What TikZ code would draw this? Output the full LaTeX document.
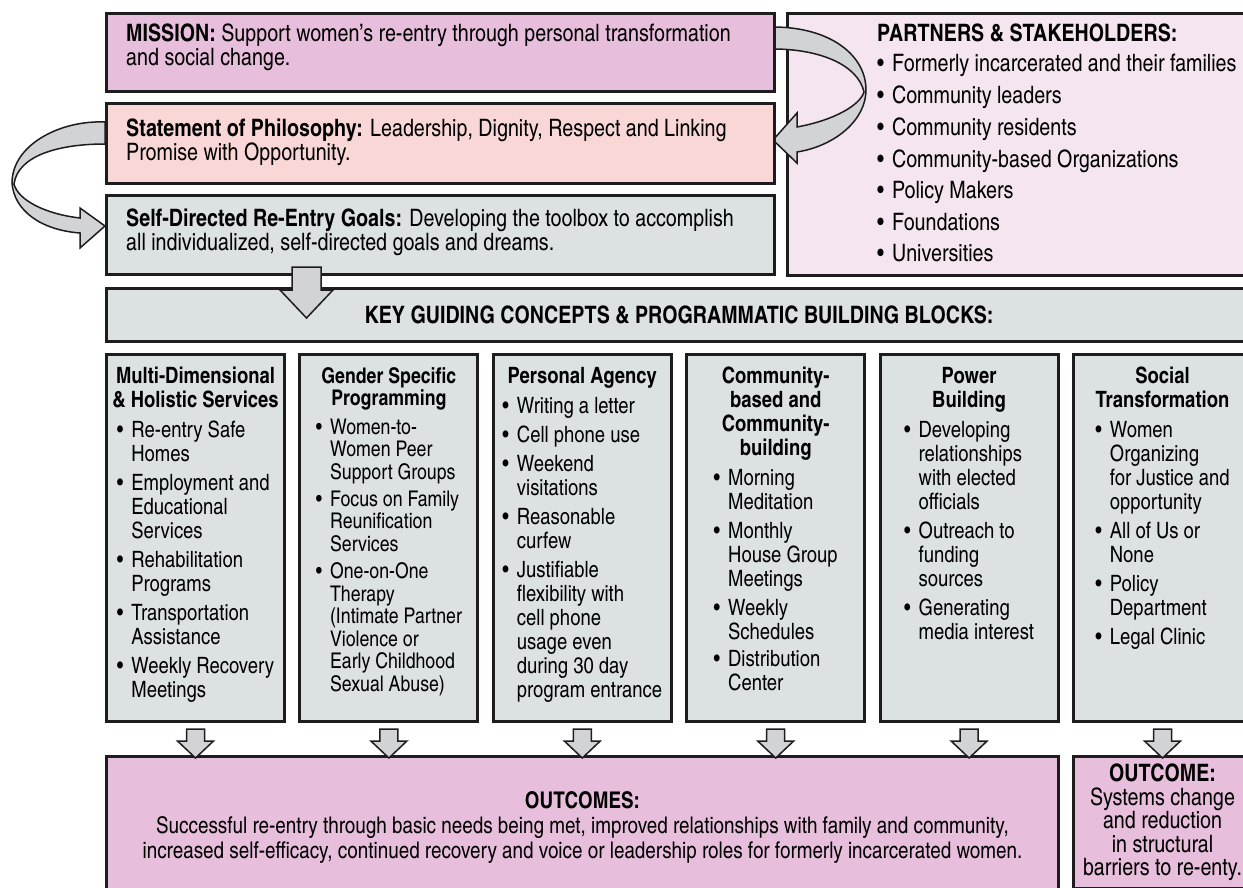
\documentclass[tikz,border=0pt]{standalone}
\usepackage{fontspec}
\setmainfont{texgyreheroscn}[Extension=.otf, UprightFont=*-regular, BoldFont=*-bold, ItalicFont=*-italic, BoldItalicFont=*-bolditalic]
\usepackage{xcolor}
\usetikzlibrary{calc}
\definecolor{mauve}{RGB}{231,190,219}
\definecolor{rose}{RGB}{250,215,215}
\definecolor{lilas}{RGB}{244,229,240}
\definecolor{grisbleu}{RGB}{220,225,225}
\definecolor{grisfleche}{RGB}{210,211,213}
\definecolor{trait}{RGB}{30,28,30}
\newcommand{\Grand}{\fontsize{24pt}{23.5pt}\selectfont}
\newcommand{\Moyen}{\fontsize{22.5pt}{24pt}\selectfont}
\tikzset{
Cadre/.style={
 draw=trait,
 line width=3pt,
 inner sep=0pt,
 anchor=north west
 },
Fleche/.style={
 draw=trait,
 line width=1.5pt,
 fill=grisfleche,
 line join=miter
 },
Texte/.style={
 inner sep=0pt,
 align=left,
 anchor=north west,
 font=\Grand
 },
Colonne/.style={
 inner sep=0pt,
 align=center,
 anchor=north,
 font=\Moyen
 },
Bilan/.style={
 Cadre,
 fill=mauve,
 align=center
 }
}
\newcommand{\Puces}[1]{\begin{tabular}[t]{@{}l@{\hspace{8pt}}l@{}}#1\end{tabular}}

\begin{document}
\begin{tikzpicture}[x=1pt,y=-1pt]
\useasboundingbox (0,0) rectangle (1243,888);
% partenaires (sous la fleche de droite)
\node[Cadre, fill=lilas, minimum width=469pt, minimum height=262pt] (partners) at (786,12) {};
\node[Texte, font=\fontsize{24pt}{24pt}\selectfont] (partnerstxt) at ([xshift=91pt,yshift=-12pt]partners.north west)
 {\textbf{PARTNERS \& STAKEHOLDERS:}\\[6pt]
 \Puces{\textbullet & Formerly incarcerated and their families\\[7pt]
 \textbullet & Community leaders\\[7pt]
 \textbullet & Community residents\\[7pt]
 \textbullet & Community-based Organizations\\[7pt]
 \textbullet & Policy Makers\\[7pt]
 \textbullet & Foundations\\[7pt]
 \textbullet & Universities}};
% fleches courbes
\draw[Fleche] (773,27) .. controls (830,27) and (866,55) .. (866,90)
 .. controls (866,120) and (835,146) .. (797,152) -- (797,163) -- (773,140) -- (797,113) -- (797,127)
 .. controls (835,120) and (860,105) .. (864,92)
 .. controls (858,65) and (820,49) .. (773,49) -- cycle;
\draw[Fleche] (105,122) .. controls (60,120) and (12,145) .. (12,183)
 .. controls (14,210) and (40,230) .. (80,233) -- (80,248) -- (105,226) -- (80,208) -- (80,218)
 .. controls (45,214) and (18,200) .. (14,184)
 .. controls (18,155) and (60,144) .. (105,144) -- cycle;
% les trois bandeaux
\node[Cadre, fill=mauve, minimum width=668pt, minimum height=78pt] (mission) at (105,12) {};
\node[Cadre, fill=rose, minimum width=668pt, minimum height=80pt] (philo) at (105,102) {};
\node[Cadre, fill=grisbleu, minimum width=668pt, minimum height=79pt] (goals) at (105,194) {};
\node[Texte] (missiontxt) at ([xshift=21pt,yshift=-12pt]mission.north west)
 {\textbf{MISSION:} Support women’s re-entry through personal transformation\\and social change.};
\node[Texte] (philotxt) at ([xshift=21pt,yshift=-17pt]philo.north west)
 {\textbf{Statement of Philosophy:} Leadership, Dignity, Respect and Linking\\Promise with Opportunity.};
\node[Texte] (goalstxt) at ([xshift=21pt,yshift=-15pt]goals.north west)
 {\textbf{Self-Directed Re-Entry Goals:} Developing the toolbox to accomplish\\all individualized, self-directed goals and dreams.};
\node[Cadre, fill=grisbleu, minimum width=1145pt, minimum height=53pt, font=\Grand\bfseries] (key) at (105,287)
 {KEY GUIDING CONCEPTS \& PROGRAMMATIC BUILDING BLOCKS:};
\coordinate (fb) at ([xshift=201.5pt]goals.south west);
\draw[Fleche] (fb) ++(-14.5,-9) -- ++(29,0) -- ++(0,23) -- ++(12,0) -- ++(-26.5,28) -- ++(-26.5,-28) -- ++(12,0) -- cycle;
% colonnes
\foreach \i in {1,...,6}
 \node[Cadre, fill=grisbleu, minimum width=178pt, minimum height=367pt] (c\i) at ({105+(\i-1)*193.4},353) {};
\node[Colonne] (t1) at ([yshift=-14pt]c1.north)
 {\textbf{Multi-Dimensional}\\\textbf{\& Holistic Services}\\[6pt]
 \Puces{\textbullet & Re-entry Safe\\ & Homes\\[5pt]
 \textbullet & Employment and\\ & Educational\\ & Services\\[5pt]
 \textbullet & Rehabilitation\\ & Programs\\[5pt]
 \textbullet & Transportation\\ & Assistance\\[5pt]
 \textbullet & Weekly Recovery\\ & Meetings}};
\node[Colonne, font=\fontsize{21.6pt}{22.5pt}\selectfont] (t2) at ([yshift=-14pt]c2.north)
 {\textbf{Gender Specific}\\\textbf{Programming}\\[6pt]
 \Puces{\textbullet & Women-to-\\ & Women Peer\\ & Support Groups\\[4.5pt]
 \textbullet & Focus on Family\\ & Reunification\\ & Services\\[4.5pt]
 \textbullet & One-on-One\\ & Therapy\\ & (Intimate Partner\\ & Violence or\\ & Early Childhood\\ & Sexual Abuse)}};
\node[Colonne] (t3) at ([yshift=-14pt]c3.north)
 {\textbf{Personal Agency}\\[6pt]
 \Puces{\textbullet & Writing a letter\\[5pt]
 \textbullet & Cell phone use\\[5pt]
 \textbullet & Weekend\\ & visitations\\[5pt]
 \textbullet & Reasonable\\ & curfew\\[5pt]
 \textbullet & Justifiable\\ & flexibility with\\ & cell phone\\ & usage even\\ & during 30 day\\ & program entrance}};
\node[Colonne] (t4) at ([yshift=-14pt]c4.north)
 {\textbf{Community-}\\\textbf{based and}\\\textbf{Community-}\\\textbf{building}\\[6pt]
 \Puces{\textbullet & Morning\\ & Meditation\\[5pt]
 \textbullet & Monthly\\ & House Group\\ & Meetings\\[5pt]
 \textbullet & Weekly\\ & Schedules\\[3pt]
 \textbullet & Distribution\\ & Center}};
\node[Colonne] (t5) at ([yshift=-14pt]c5.north)
 {\textbf{Power}\\\textbf{Building}\\[6pt]
 \Puces{\textbullet & Developing\\ & relationships\\ & with elected\\ & officials\\[5pt]
 \textbullet & Outreach to\\ & funding\\ & sources\\[5pt]
 \textbullet & Generating\\ & media interest}};
\node[Colonne] (t6) at ([yshift=-14pt]c6.north)
 {\textbf{Social}\\\textbf{Transformation}\\[6pt]
 \Puces{\textbullet & Women\\ & Organizing\\ & for Justice and\\ & opportunity\\[5pt]
 \textbullet & All of Us or\\ & None\\[5pt]
 \textbullet & Policy\\ & Department\\[5pt]
 \textbullet & Legal Clinic}};
% resultats
\node[Bilan, minimum width=952pt, minimum height=142pt, font=\fontsize{23pt}{25pt}\selectfont] (outcomes) at (105,755)
 {\textbf{OUTCOMES:}\\Successful re-entry through basic needs being met, improved relationships with family and community,\\increased self-efficacy, continued recovery and voice or leadership roles for formerly incarcerated women.};
\node[Bilan, minimum width=178pt, minimum height=132pt, font=\fontsize{24pt}{23.4pt}\selectfont] (outcome) at (1072,755)
 {\textbf{OUTCOME:}\\Systems change\\and reduction\\in structural\\barriers to re-enty.};
\foreach \i in {1,...,6}
 \draw[Fleche] ($(c\i.south)+(-9,6)$) -- ++(18,0) -- ++(0,12) -- ++(9,0) -- ++(-18,17) -- ++(-18,-17) -- ++(9,0) -- cycle;
\end{tikzpicture}
\end{document}
